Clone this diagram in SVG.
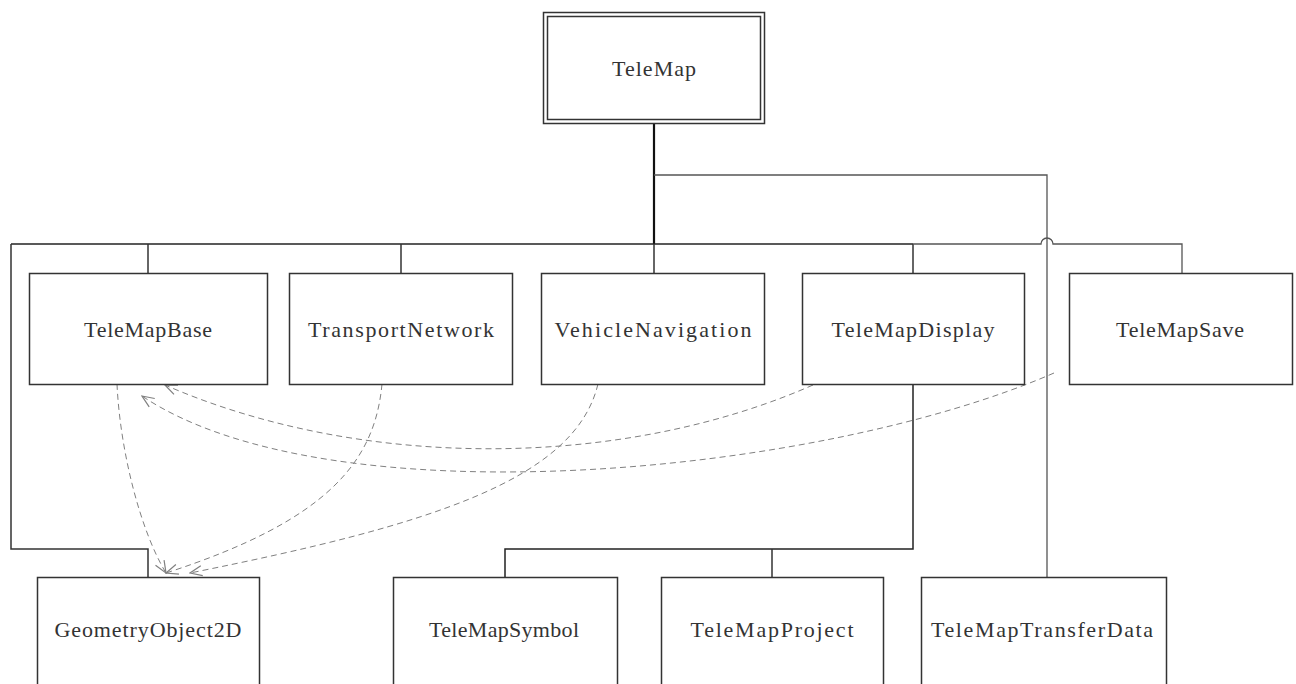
<svg xmlns="http://www.w3.org/2000/svg" width="1296" height="684" viewBox="0 0 1296 684">
<style>
.box{fill:#fff;stroke:#333;stroke-width:1.5}
.lbl{font-family:"Liberation Serif","DejaVu Serif",serif;font-size:22px;fill:#333;text-anchor:middle}
.tree{fill:none;stroke:#333;stroke-width:1.5}
.tree2{fill:none;stroke:#555;stroke-width:1.3}
.dep{fill:none;stroke:#808080;stroke-width:1;stroke-dasharray:6,4}
</style>
<defs>
<marker id="open" viewBox="0 0 14 12" refX="13" refY="6" markerWidth="14" markerHeight="12" markerUnits="userSpaceOnUse" orient="auto">
<path d="M1,1 L13,6 L1,11" fill="none" stroke="#808080" stroke-width="1.2"/>
</marker>
</defs>
<rect width="1296" height="684" fill="#fff"/>
<g id="connectors">
<path class="tree" d="M654,123 V244" style="stroke-width:2.2;stroke:#111"/>
<path class="tree" d="M11,244 H913" style="stroke:#222"/>
<path class="tree" d="M11,244 V549 H148 V577"/>
<path class="tree" d="M148,244 V273"/>
<path class="tree" d="M401,244 V273"/>
<path class="tree" d="M654,244 V273"/>
<path class="tree" d="M913,244 V273"/>
<path class="tree2" d="M913,244 H1041 A6,6 0 0 1 1053,244 H1182 V273"/>
<path class="tree2" d="M654,175 H1047 V577"/>
<path class="tree" d="M913,384 V549 H505 V577" style="stroke:#222"/>
<path class="tree" d="M772,549 V577"/>
<path class="dep" d="M117,384 C120,450 140,530 166,573" marker-end="url(#open)"/>
<path class="dep" d="M382,384 C375,460 330,520 166,573" marker-end="url(#open)"/>
<path class="dep" d="M598,384 C575,480 430,525 190,573" marker-end="url(#open)"/>
<path class="dep" d="M813,385 C620,470 360,470 165,385" marker-end="url(#open)"/>
<path class="dep" d="M1054,373 C820,475 330,522 142,396" marker-end="url(#open)"/>
</g>
<g id="TeleMap">
<rect class="box" x="543.5" y="12.5" width="221" height="111"/>
<rect class="box" x="547.5" y="16.5" width="213" height="103"/>
<text class="lbl" x="654" y="76" textLength="84" lengthAdjust="spacing">TeleMap</text>
</g>
<g id="TeleMapBase">
<rect class="box" x="29.5" y="273.5" width="238" height="111"/>
<text class="lbl" x="148" y="337" textLength="128" lengthAdjust="spacing">TeleMapBase</text>
</g>
<g id="TransportNetwork">
<rect class="box" x="289.5" y="273.5" width="223" height="111"/>
<text class="lbl" x="401" y="337" textLength="186" lengthAdjust="spacing">TransportNetwork</text>
</g>
<g id="VehicleNavigation">
<rect class="box" x="541.5" y="273.5" width="223" height="111"/>
<text class="lbl" x="653" y="337" textLength="197" lengthAdjust="spacing">VehicleNavigation</text>
</g>
<g id="TeleMapDisplay">
<rect class="box" x="802.5" y="273.5" width="222" height="111"/>
<text class="lbl" x="913" y="337" textLength="163" lengthAdjust="spacing">TeleMapDisplay</text>
</g>
<g id="TeleMapSave">
<rect class="box" x="1069.5" y="273.5" width="223" height="111"/>
<text class="lbl" x="1180" y="337" textLength="128" lengthAdjust="spacing">TeleMapSave</text>
</g>
<g id="GeometryObject2D">
<rect class="box" x="37.5" y="577.5" width="222" height="130"/>
<text class="lbl" x="148" y="637" textLength="187" lengthAdjust="spacing">GeometryObject2D</text>
</g>
<g id="TeleMapSymbol">
<rect class="box" x="393.5" y="577.5" width="224" height="130"/>
<text class="lbl" x="504" y="637" textLength="150" lengthAdjust="spacing">TeleMapSymbol</text>
</g>
<g id="TeleMapProject">
<rect class="box" x="661.5" y="577.5" width="222" height="130"/>
<text class="lbl" x="772" y="637" textLength="163" lengthAdjust="spacing">TeleMapProject</text>
</g>
<g id="TeleMapTransferData">
<rect class="box" x="921.5" y="577.5" width="245" height="130"/>
<text class="lbl" x="1042" y="637" textLength="222" lengthAdjust="spacing">TeleMapTransferData</text>
</g>
</svg>
